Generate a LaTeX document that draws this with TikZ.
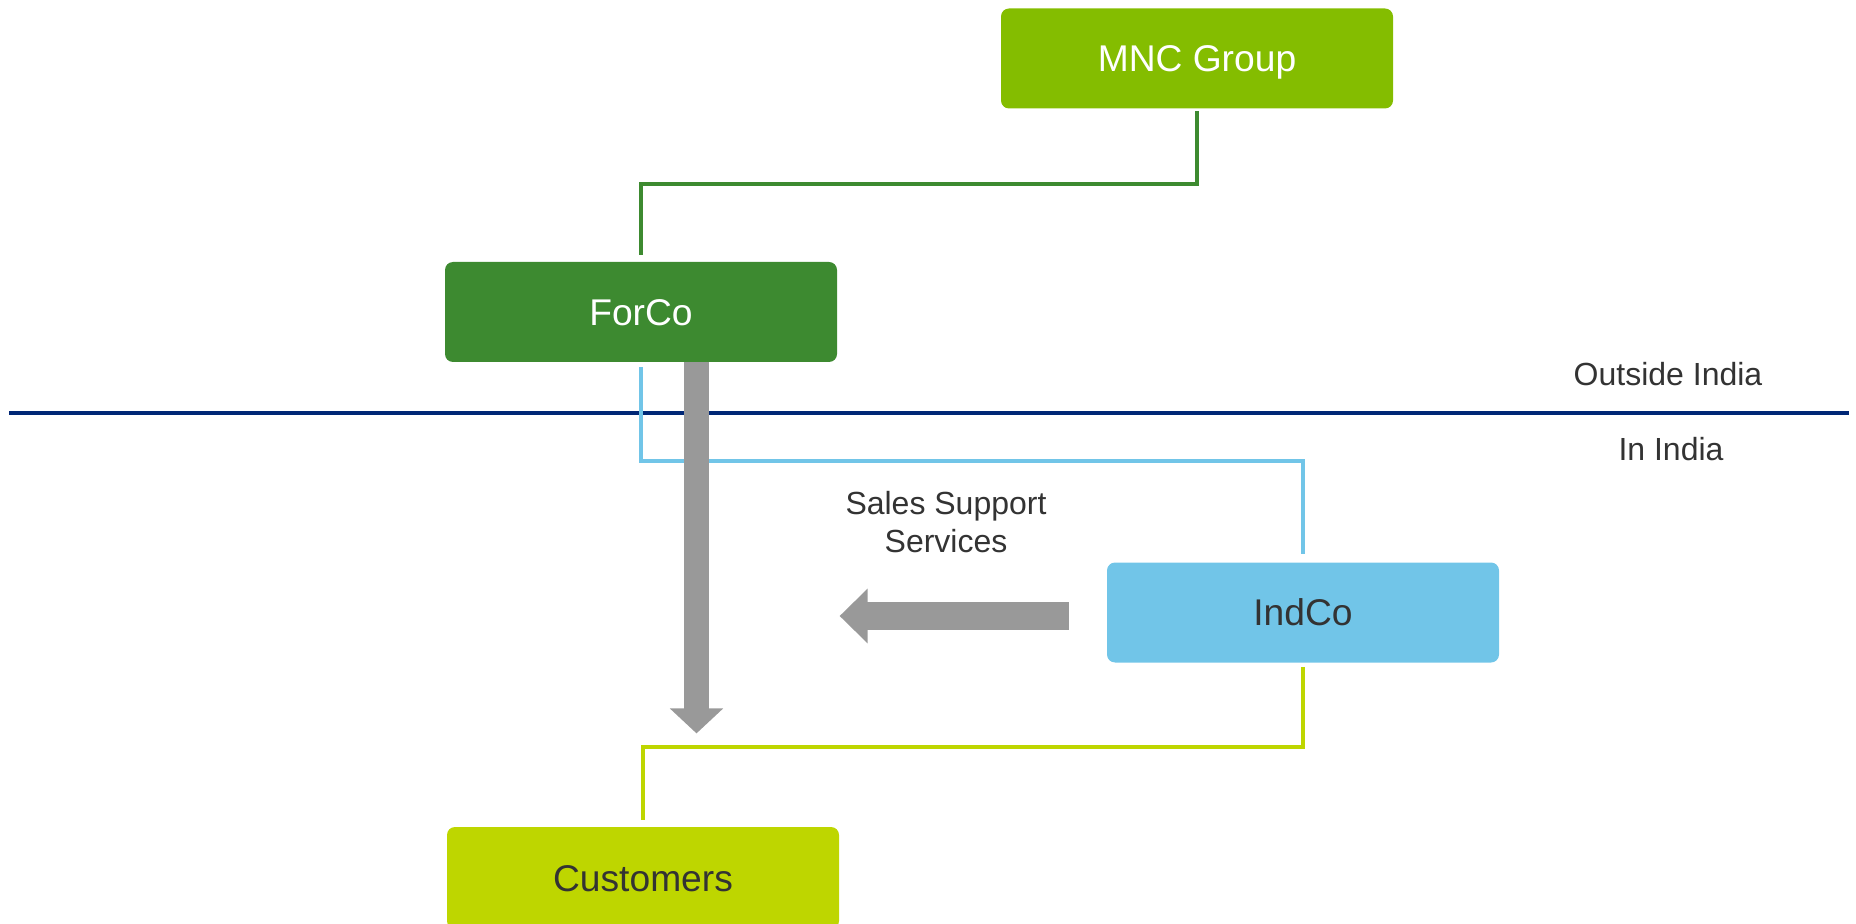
\documentclass[tikz,border=0pt]{standalone}
\usepackage{fontspec}
\setmainfont{Liberation Sans}
\usetikzlibrary{calc,arrows.meta}
\definecolor{mncgreen}{HTML}{84BD00}
\definecolor{forgreen}{HTML}{3D8A30}
\definecolor{indblue}{HTML}{71C5E8}
\definecolor{custyg}{HTML}{BED600}
\definecolor{arrgray}{HTML}{999999}
\definecolor{navy}{HTML}{002776}
\definecolor{txtgray}{HTML}{333333}
\tikzset{
  box/.style={rounded corners=4pt, minimum width=196pt, minimum height=50pt, inner sep=0pt,
    font=\fontsize{18.6}{22}\selectfont, text height=13.4pt, text depth=0pt},
  lbl/.style={text=txtgray, font=\fontsize{16}{19}\selectfont, inner sep=0pt},
  conn/.style={line width=2pt},
  flowv/.style={arrgray, line width=12.5pt, -{Triangle[width=26pt,length=12.5pt]}},
  flowh/.style={arrgray, line width=14pt, -{Triangle[width=26.5pt,length=14pt]}},
}
\begin{document}
\begin{tikzpicture}[x=0.5pt,y=-0.5pt]
\useasboundingbox (0,0) rectangle (1856,924);
% boxes
\node[box, fill=mncgreen, text=white] (mnc) at (1197,58.5) {MNC Group};
\node[box, fill=forgreen, text=white] (forco) at (641,312) {ForCo};
\node[box, fill=indblue, text=txtgray] (indco) at (1303,612.5) {IndCo};
\node[box, fill=custyg, text=txtgray, minimum height=51pt] (cust) at (643,878) {Customers};
% divider
\coordinate (dl) at (9,413);
\coordinate (dr) at (1849,413);
\draw[navy, line width=1.6pt] (dl) -- (dr);
\node[lbl] (outside) at (1668,374) {Outside India};
\node[lbl] (inindia) at (1671,449) {In India};
% connectors
\draw[conn, forgreen] ($(mnc.south)+(0,2)$) -- ++(0,73) -| ($(forco.north)+(0,-7)$);
\draw[conn, indblue] ($(forco.south)+(0,5)$) |- ($(indco.north)+(0,-101)$) -- ($(indco.north)+(0,-8)$);
\draw[conn, custyg] ($(indco.south)+(0,4)$) -- ++(0,80) -| ($(cust.north)+(0,-7)$);
% flow arrows
\coordinate (vtop) at ($(forco.south)+(55.5,0)$);
\coordinate (vend) at ($(vtop)+(0,371)$);
\draw[flowv] (vtop) -- (vend);
\coordinate (hstart) at ($(indco.west)+(-38,3.5)$);
\coordinate (hend) at ($(hstart)+(-229,0)$);
\draw[flowh] (hstart) -- (hend);
\node[lbl, align=center, font=\fontsize{16}{19}\selectfont] (sss) at (946,522) {Sales Support\\Services};
\end{tikzpicture}
\end{document}
